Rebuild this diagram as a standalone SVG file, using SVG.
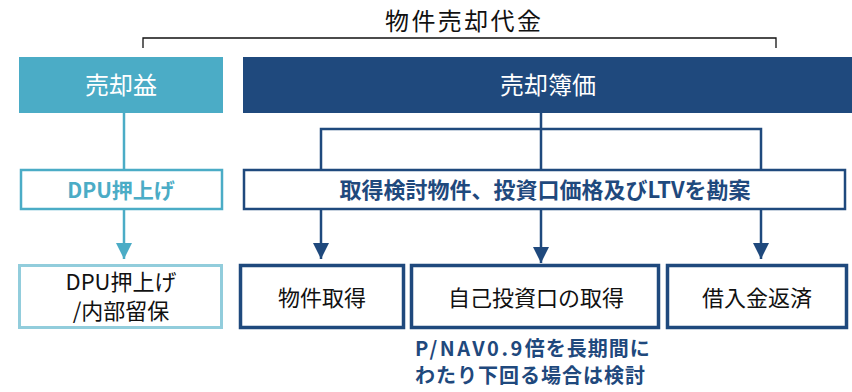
<svg xmlns="http://www.w3.org/2000/svg" width="852" height="392" viewBox="0 0 852 392">
<defs>
<style>
text{font-family:"Noto Sans CJK JP","Noto Sans",sans-serif;text-anchor:middle}
.hd{fill:#fff;font-size:24px}
.body{fill:#111;font-size:22px}
.bold{font-weight:bold}
.note{font-weight:bold;font-size:20px;fill:#1F497D;text-anchor:start}
.dk{stroke:#1F497D;fill:none;stroke-width:2.5}
.lt{stroke:#4BACC6;fill:none;stroke-width:2.5}
</style>
<marker id="ad" viewBox="0 0 16 16" refX="16" refY="8" markerWidth="16" markerHeight="16" markerUnits="userSpaceOnUse" orient="auto"><path d="M0,0L16,8L0,16Z" fill="#1F497D"/></marker>
<marker id="al" viewBox="0 0 16 16" refX="16" refY="8" markerWidth="16" markerHeight="16" markerUnits="userSpaceOnUse" orient="auto"><path d="M0,0L16,8L0,16Z" fill="#4BACC6"/></marker>
</defs>
<rect width="852" height="392" fill="#fff"/>
<g id="title">
<text x="463" y="30" font-size="24" fill="#111" textLength="156">物件売却代金</text>
<path d="M143,48V38H776V48" fill="none" stroke="#111" stroke-width="1.3"/>
</g>
<g id="connectors">
<line class="lt" x1="124" y1="113" x2="124" y2="170"/>
<line class="lt" x1="124" y1="209" x2="124" y2="259" marker-end="url(#al)"/>
<path class="dk" d="M541,113V170M321,170V129H761V170"/>
<line class="dk" x1="321" y1="209" x2="321" y2="259" marker-end="url(#ad)"/>
<line class="dk" x1="541" y1="209" x2="541" y2="263" marker-end="url(#ad)"/>
<line class="dk" x1="761" y1="209" x2="761" y2="259" marker-end="url(#ad)"/>
</g>
<g id="n-gain">
<rect x="19" y="57" width="204" height="56" fill="#4BACC6"/>
<text class="hd" x="121" y="94">売却益</text>
</g>
<g id="n-book">
<rect x="243" y="57" width="609" height="56" fill="#1F497D"/>
<text class="hd" x="548" y="94">売却簿価</text>
</g>
<g id="n-dpu">
<rect x="21" y="170" width="201" height="39" fill="#fff" stroke="#4BACC6" stroke-width="2.5"/>
<text class="bold" x="121" y="198" font-size="21" fill="#4BACC6">DPU押上げ</text>
</g>
<g id="n-consider">
<rect x="244" y="170" width="601" height="39" fill="#fff" stroke="#1F497D" stroke-width="2.5"/>
<text class="bold" x="545" y="198" font-size="22" fill="#1F497D">取得検討物件、投資口価格及びLTVを勘案</text>
</g>
<g id="n-retain">
<rect x="19.5" y="265.5" width="202" height="62" fill="#fff" stroke="#92CDDC" stroke-width="3"/>
<text class="body" x="121" y="290" font-size="20">DPU押上げ</text>
<text class="body" x="121" y="319" font-size="20">/内部留保</text>
</g>
<g id="n-acq">
<rect x="240.5" y="265.5" width="163" height="62" fill="#fff" stroke="#1F497D" stroke-width="3.5"/>
<text class="body" x="322" y="306">物件取得</text>
</g>
<g id="n-buyback">
<rect x="411.5" y="265.5" width="247" height="62" fill="#fff" stroke="#1F497D" stroke-width="3.5"/>
<text class="body" x="536" y="306">自己投資口の取得</text>
</g>
<g id="n-repay">
<rect x="667.5" y="265.5" width="179" height="62" fill="#fff" stroke="#1F497D" stroke-width="3.5"/>
<text class="body" x="757" y="306">借入金返済</text>
</g>
<g id="note">
<text class="note" x="415" y="356"><tspan letter-spacing="2.5">P/NAV0.9</tspan><tspan letter-spacing="1">倍を長期間に</tspan></text>
<text class="note" x="415" y="383" letter-spacing="1">わたり下回る場合は検討</text>
</g>
</svg>
